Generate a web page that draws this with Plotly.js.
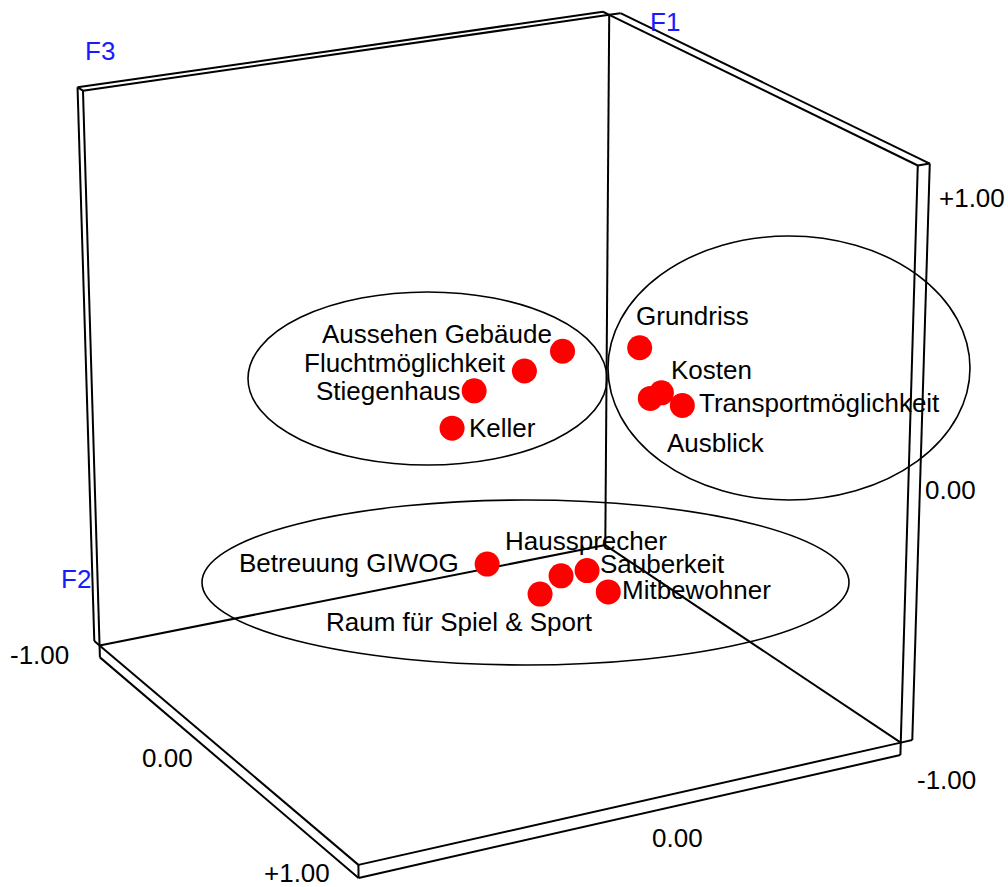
<!DOCTYPE html>
<html><head><meta charset="utf-8">
<script src="https://cdn.plot.ly/plotly-3.0.1.min.js"></script>
<style>html,body{margin:0;padding:0;background:#fff}#chart{width:1008px;height:887px}</style>
</head><body><div id="chart"></div>
<script>
// ---------------- data: factor values (F1 vertical, F2 along left-front edge, F3 along right-front edge) ----------------
const names = ["Aussehen Gebäude","Fluchtmöglichkeit","Stiegenhaus","Keller",
               "Grundriss","Kosten","Transportmöglichkeit","Ausblick",
               "Betreuung GIWOG","Haussprecher","Sauberkeit","Mitbewohner","Raum für Spiel & Sport"];
const F1 = [0.30, 0.30, 0.30, 0.30,   0.00, 0.00, 0.00, 0.00,   -0.60, -0.60, -0.60, -0.60, -0.60];
const F2 = [0.29, 0.40, 0.49, 0.76,  -0.36, 0.07, 0.21, 0.10,   -0.16, 0.05, 0.05, 0.25, 0.16];
const F3 = [-0.11, 0.09, 0.32, 0.54, -0.77, -0.61, -0.61, -0.55, -0.07, -0.24, -0.34, -0.31, -0.10];
const tickVals = [-1, 0, 1];
const tickText = ["-1.00", "0.00", "+1.00"];
const axisNames = ["F1", "F2", "F3"];

// ---------------- view: perspective camera fitted to the box corners ----------------
// corner order (F2, F3, F1) -> screen pixel
const viewCorners = [
 [[-1,-1, 1],[609,15]], [[-1, 1, 1],[83,91]], [[ 1,-1, 1],[918,165]],
 [[-1,-1,-1],[606,545]], [[-1, 1,-1],[99,645]], [[ 1,-1,-1],[900,743]], [[ 1, 1,-1],[359,865]]
];
function fitCamera(corr){
  const A=[], b=[];
  for (const [[X,Y,Z],[u,v]] of corr){
    A.push([X,Y,Z,1,0,0,0,0,-u*X,-u*Y,-u*Z]); b.push(u);
    A.push([0,0,0,0,X,Y,Z,1,-v*X,-v*Y,-v*Z]); b.push(v);
  }
  const n=11, M=[]; for(let i=0;i<n;i++) M.push(new Array(n+1).fill(0));
  for(let r=0;r<A.length;r++) for(let i=0;i<n;i++){ for(let j=0;j<n;j++) M[i][j]+=A[r][i]*A[r][j]; M[i][n]+=A[r][i]*b[r]; }
  for(let i=0;i<n;i++){
    let piv=i; for(let k=i+1;k<n;k++) if(Math.abs(M[k][i])>Math.abs(M[piv][i])) piv=k;
    [M[i],M[piv]]=[M[piv],M[i]];
    for(let k=0;k<n;k++){ if(k===i) continue; const f=M[k][i]/M[i][i]; for(let j=i;j<=n;j++) M[k][j]-=f*M[i][j]; }
  }
  return M.map((r,i)=>r[n]/r[i]);
}
const P = fitCamera(viewCorners);
function proj(X,Y,Z){ const w=P[8]*X+P[9]*Y+P[10]*Z+1; return [(P[0]*X+P[1]*Y+P[2]*Z+P[3])/w, (P[4]*X+P[5]*Y+P[6]*Z+P[7])/w]; }

// ---------------- box walls (slabs of thickness t) ----------------
const t=0.045;
const E=[
 [[-1-t,-1,1],[-1-t,1,1]],[[-1,-1,1],[-1,1,1]],[[-1-t,1,1],[-1,1,1]],[[-1-t,-1,1],[-1,-1,1]],
 [[-1-t,1,1],[-1-t,1,-1]],[[-1,1,1],[-1,1,-1]],[[-1-t,1,-1],[-1,1,-1]],
 [[-1,-1,1],[-1,-1,-1]],
 [[-1,-1-t,1],[1,-1-t,1]],[[-1,-1,1],[1,-1,1]],[[1,-1-t,1],[1,-1,1]],[[-1,-1-t,1],[-1,-1,1]],
 [[1,-1-t,1],[1,-1-t,-1]],[[1,-1,1],[1,-1,-1]],[[1,-1-t,-1],[1,-1,-1]],
 [[-1,-1,-1],[-1,1,-1]],[[-1,-1,-1],[1,-1,-1]],
 [[-1,1,-1],[1,1,-1]],[[1,1,-1],[1,-1,-1]],
 [[-1,1,-1-t],[1,1,-1-t]],[[1,1,-1-t],[1,-1,-1-t]],
 [[-1,1,-1],[-1,1,-1-t]],[[1,1,-1],[1,1,-1-t]],[[1,-1,-1],[1,-1,-1-t]]
];
const ex=[], ey=[];
for(const [a,b] of E){ const p1=proj(...a), p2=proj(...b); ex.push(p1[0],p2[0],null); ey.push(p1[1],p2[1],null); }

// ---------------- points ----------------
const px=[], py=[];
for(let i=0;i<names.length;i++){ const q=proj(F2[i],F3[i],F1[i]); px.push(q[0]); py.push(q[1]); }

const FONT='Liberation Sans, Arial, Helvetica, sans-serif';
// label placement (anchor side, pixel shift right, pixel shift down)
const labAnchor=['right','right','right','left','left','left','left','left','right','left','left','left','right'];
const labDx=[-9,-16,-11,15,-6,8,15,15,-26,-58,11,12,55];
const labDy=[-17,-8,0,0,-32,-23,-2,45,-1,-35,-7,-2,28];

const annotations=[];
for(let i=0;i<names.length;i++){
  annotations.push({x:px[i],y:py[i],xref:'x',yref:'y',text:names[i],showarrow:false,
    xanchor:labAnchor[i],yanchor:'middle',xshift:labDx[i],yshift:-labDy[i],
    font:{family:FONT,size:26,color:'#000'}});
}
// tick labels: along left-front edge (F2), right-front edge (F3), right vertical (F1)
const tickSpecs=[
 [[-1,1,-1],tickText[0],-60,10],[[0,1,-1],tickText[1],-55,8],[[1,1,-1],tickText[2],-61,8],
 [[1,0,-1],tickText[1],40,36],[[1,-1,-1],tickText[0],46,37],
 [[1,-1,0],tickText[1],41,30],[[1,-1,1],tickText[2],54,32]
];
for(const [pt,txt,dx,dy] of tickSpecs){
  const q=proj(...pt);
  annotations.push({x:q[0],y:q[1],xref:'x',yref:'y',text:txt,showarrow:false,xanchor:'center',yanchor:'middle',
    xshift:dx,yshift:-dy,font:{family:FONT,size:26,color:'#000'}});
}
// axis titles
const titleSpecs=[[[-1,-1,1],axisNames[0],56,7],[[-1,1,-1],axisNames[1],-24,-66],[[-1,1,1],axisNames[2],17,-40]];
for(const [pt,txt,dx,dy] of titleSpecs){
  const q=proj(...pt);
  annotations.push({x:q[0],y:q[1],xref:'x',yref:'y',text:txt,showarrow:false,xanchor:'center',yanchor:'middle',
    xshift:dx,yshift:-dy,font:{family:FONT,size:26,color:'#1a1aff'}});
}

// cluster ellipses
const ellipses=[[248,607,292,465],[608,970,236,500],[202,849,500,665]];
const shapes=ellipses.map(e=>({type:'circle',xref:'x',yref:'y',x0:e[0],x1:e[1],y0:e[2],y1:e[3],line:{color:'#000',width:1.6},layer:'below'}));

const traces=[
 {x:ex,y:ey,mode:'lines',line:{color:'#000',width:2},hoverinfo:'skip'},
 {x:px,y:py,mode:'markers',marker:{size:25,color:'#ff0000',line:{width:0}},hoverinfo:'skip'}
];
const layout={width:1008,height:887,margin:{l:0,r:0,t:0,b:0},paper_bgcolor:'#fff',plot_bgcolor:'#fff',showlegend:false,
 xaxis:{range:[0,1008],visible:false,fixedrange:true},yaxis:{range:[887,0],visible:false,fixedrange:true},
 shapes:shapes,annotations:annotations};
Plotly.newPlot('chart',traces,layout,{staticPlot:true});
</script></body></html>
